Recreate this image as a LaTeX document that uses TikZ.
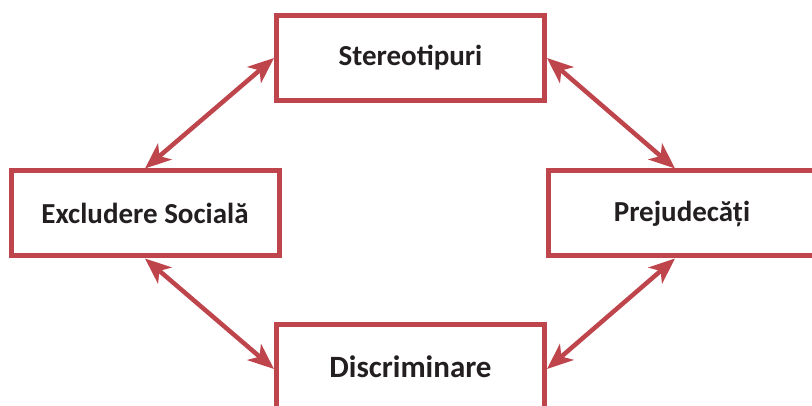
\documentclass[tikz,border=0pt]{standalone}
\usepackage{fontspec}
\setmainfont{Carlito}
\usepackage{tikz}
\usetikzlibrary{positioning, arrows.meta}

\definecolor{boxred}{RGB}{191,69,77}
\definecolor{textblack}{RGB}{35,31,32}

\begin{document}
\begin{tikzpicture}
    [
        node distance=155.5pt and 265.5pt, on grid,
        red_box/.style={rectangle, draw=boxred, fill=white, line width=5pt, minimum width=268pt, minimum height=85pt, text=textblack, font=\fontsize{29pt}{34pt}\selectfont\bfseries},
        red_arrow/.style={{Stealth[length=26pt, width=21pt, inset=7pt]}-{Stealth[length=26pt, width=21pt, inset=7pt]}, line width=4.5pt, color=boxred},
    ]
        \useasboundingbox (0,0) rectangle (812pt,-406pt) ;
        \node[red_box] (stereo) at (410.5pt,-58pt) {Stereotipuri} ;
        \node[red_box] (excl) [below left = of stereo] {Excludere Social\u a} ;
        \node[red_box] (prej) [below right = 155.5pt and 271.5pt of stereo] {Prejudecăți} ;
        \node[red_box, font=\fontsize{31pt}{36pt}\selectfont\bfseries] (disc) [below right = 153.5pt and 265.5pt of excl] {Discriminare} ;
        \draw[red_arrow] (stereo.west) to (excl.north) ;
        \draw[red_arrow] (stereo.east) to ([xshift=-7pt]prej.north) ;
        \draw[red_arrow] (excl.south) to ([yshift=-2pt]disc.west) ;
        \draw[red_arrow] ([xshift=-7pt]prej.south) to ([yshift=-2pt]disc.east) ;
    \end{tikzpicture}
\end{document}
